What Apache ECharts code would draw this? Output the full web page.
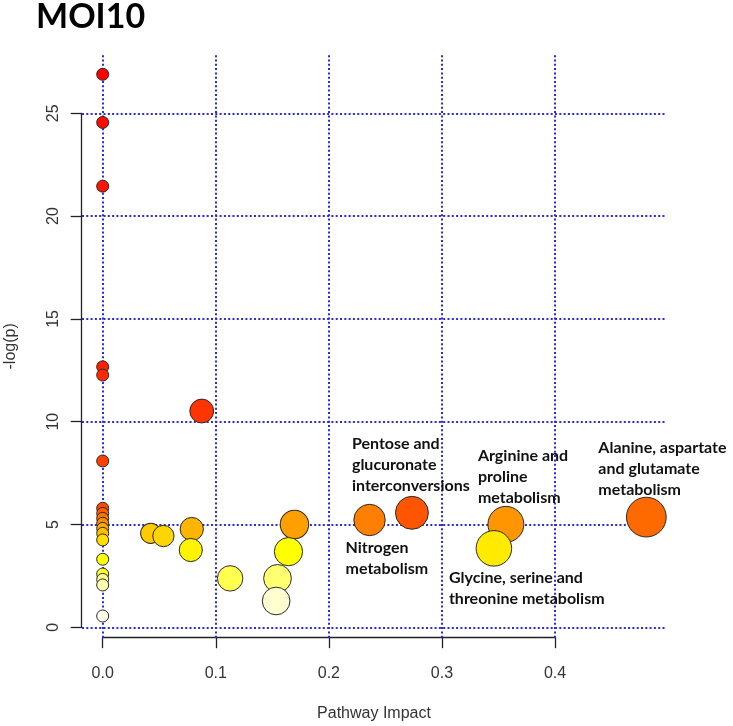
<!DOCTYPE html>
<html><head><meta charset="utf-8">
<script src="https://cdn.jsdelivr.net/npm/echarts@6/dist/echarts.min.js"></script>
<style>html,body{margin:0;padding:0;background:#fff}#c{width:733px;height:726px}</style>
</head><body><div id="c"></div>
<script>
// ---- data (ordered by -log(p), most significant first) ----
const chartTitle = 'MOI10';
const xAxisName = 'Pathway Impact';
const yAxisName = '-log(p)';
const impact = [0, 0, 0, 0, 0, 0.0876, 0, 0, 0.2735, 0, 0.4808, 0, 0.236, 0, 0.3566, 0.1696, 0, 0.0788, 0, 0.0425, 0.0537, 0, 0.346, 0.0779, 0.1643, 0, 0, 0.1127, 0.1546, 0, 0, 0.1534, 0];
const logP   = [26.9, 24.56, 21.46, 12.67, 12.27, 10.52, 8.09, 5.79, 5.57, 5.54, 5.36, 5.30, 5.22, 5.06, 5.01, 5.00, 4.81, 4.78, 4.57, 4.57, 4.44, 4.25, 3.84, 3.76, 3.68, 3.31, 2.59, 2.38, 2.38, 2.33, 2.06, 1.28, 0.55];
const pathwayLabel = ['', '', '', '', '', '', '', '',
  'Pentose and\nglucuronate\ninterconversions', '',
  'Alanine, aspartate\nand glutamate\nmetabolism', '',
  'Nitrogen\nmetabolism', '',
  'Arginine and\nproline\nmetabolism', '', '', '', '', '', '', '',
  'Glycine, serine and\nthreonine metabolism', '', '', '', '', '', '', '', '', '', ''];
const xTicks = [0, 0.1, 0.2, 0.3, 0.4];
const yTicks = [0, 5, 10, 15, 20, 25];

// ---- styling ----
const labelOffset = { 8: [-60, -79], 10: [-48, -79.5], 12: [-24, 17], 14: [-28, -79], 22: [-45, 19] };
const X_MIN = -0.0183, X_MAX = 0.4982, Y_MIN = -0.506, Y_MAX = 27.84;

// R heat.colors(n)
function hsvHex(h, s, v) {
  const i = Math.floor(h * 6), f = h * 6 - i;
  const p = v * (1 - s), q = v * (1 - f * s), t = v * (1 - (1 - f) * s);
  let r, g, b;
  switch (i % 6) { case 0: r=v; g=t; b=p; break; case 1: r=q; g=v; b=p; break; case 2: r=p; g=v; b=t; break;
    case 3: r=p; g=q; b=v; break; case 4: r=t; g=p; b=v; break; default: r=v; g=p; b=q; }
  const h2 = x => ('0' + Math.round(x * 255).toString(16)).slice(-2);
  return '#' + h2(r) + h2(g) + h2(b);
}
function heatColors(n) {
  const j = Math.floor(n / 4), i = n - j, out = [];
  for (let k = 0; k < i; k++) out.push(hsvHex((i > 1 ? k / (i - 1) : 0) / 6, 1, 1));
  for (let k = 0; k < j; k++) {
    const s0 = 1 - 1 / (2 * j), s1 = 1 / (2 * j);
    out.push(hsvHex(1 / 6, j > 1 ? s0 + (s1 - s0) * k / (j - 1) : s0, 1));
  }
  return out;
}
const colors = heatColors(logP.length);

const pointData = impact.map((x, i) => {
  const item = { value: [x, logP[i]], itemStyle: { color: colors[i] } };
  if (pathwayLabel[i]) {
    item.label = { show: true, position: 'inside', align: 'left', verticalAlign: 'top', offset: labelOffset[i] };
  }
  return item;
});

const gridLineData = [
  ...xTicks.map(v => [{ coord: [v, Y_MIN] }, { coord: [v, Y_MAX] }]),
  ...yTicks.map(v => [{ coord: [X_MIN, v] }, { coord: [X_MAX, v] }])
];

const axisFont = { fontFamily: 'Liberation Sans, Arial, sans-serif', fontSize: 16, color: '#333' };
const axLine = { show: true, lineStyle: { color: '#222', width: 1.3 } };

const chart = echarts.init(document.getElementById('c'), null, { renderer: 'canvas' });
chart.setOption({
  animation: false,
  backgroundColor: '#fff',
  title: { text: chartTitle, left: 36, top: 0, padding: 0,
    textStyle: { fontFamily: 'Lato, sans-serif', fontWeight: 'bold', fontSize: 34, color: '#000' } },
  grid: [
    { left: 82, right: 67, top: 55, bottom: 88.3, containLabel: false, outerBoundsMode: 'none' },
    { left: 102.7, right: 178, top: 600, bottom: 88.3, containLabel: false, outerBoundsMode: 'none' },
    { left: 81.7, width: 30, top: 113.3, bottom: 98.7, containLabel: false, outerBoundsMode: 'none' }
  ],
  xAxis: [
    { gridIndex: 0, type: 'value', min: X_MIN, max: X_MAX, axisLine: { show: false }, axisTick: { show: false },
      axisLabel: { show: false }, splitLine: { show: false },
      name: xAxisName, nameLocation: 'middle', nameGap: 68, nameTextStyle: axisFont },
    { gridIndex: 1, type: 'value', min: 0, max: 0.4, interval: 0.1, position: 'bottom',
      axisLine: axLine, axisTick: { show: true, length: 10.5, lineStyle: { color: '#222', width: 1.3 } },
      axisLabel: Object.assign({ margin: 28, formatter: v => v.toFixed(1) }, axisFont), splitLine: { show: false } },
    { gridIndex: 2, type: 'value', show: false }
  ],
  yAxis: [
    { gridIndex: 0, type: 'value', min: Y_MIN, max: Y_MAX, axisLine: { show: false }, axisTick: { show: false },
      axisLabel: { show: false }, splitLine: { show: false },
      name: yAxisName, nameLocation: 'middle', nameGap: 63, nameRotate: 90, nameTextStyle: axisFont },
    { gridIndex: 1, type: 'value', show: false },
    { gridIndex: 2, type: 'value', min: 0, max: 25, interval: 5, position: 'left',
      axisLine: axLine, axisTick: { show: true, length: 11, lineStyle: { color: '#222', width: 1.3 } },
      axisLabel: Object.assign({ margin: 20, rotate: 90 }, axisFont), splitLine: { show: false } }
  ],
  series: [{
    type: 'scatter', xAxisIndex: 0, yAxisIndex: 0, z: 3,
    data: pointData,
    symbol: 'circle',
    symbolSize: v => 12 + 40 * Math.sqrt(v[0]),
    itemStyle: { borderColor: '#2a2a2a', borderWidth: 1, opacity: 1 },
    label: { show: false, formatter: p => pathwayLabel[p.dataIndex],
      fontFamily: 'Lato, sans-serif', fontWeight: 'bold', fontSize: 16, lineHeight: 21, color: '#111' },
    emphasis: { disabled: true },
    markLine: {
      z: 1, silent: true, symbol: ['none', 'none'], label: { show: false },
      lineStyle: { color: '#2b2bdd', width: 2, type: [2, 2.3] },
      emphasis: { disabled: true },
      data: gridLineData
    }
  }]
});
</script></body></html>
